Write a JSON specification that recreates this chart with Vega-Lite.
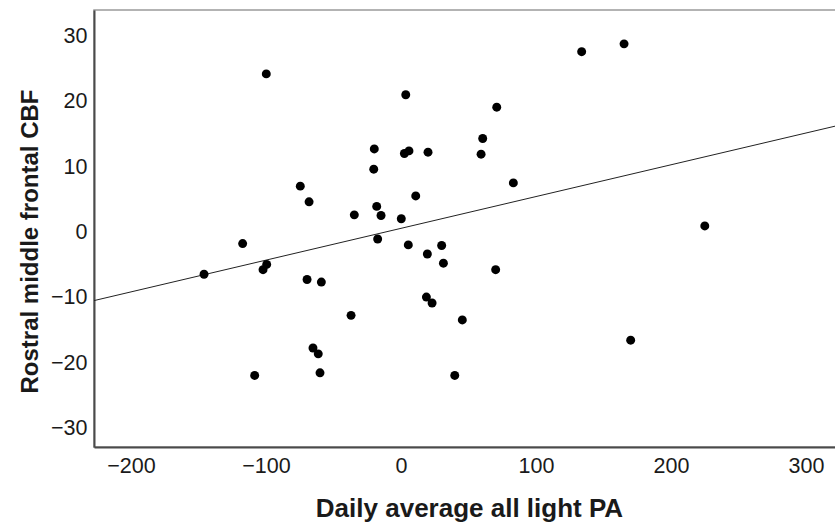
{
  "$schema": "https://vega.github.io/schema/vega-lite/v6.json",
  "width": 745,
  "height": 437,
  "autosize": "none",
  "padding": {"left": 94, "top": 10, "right": 0, "bottom": 81},
  "background": "white",
  "config": {
    "view": {"stroke": "#9a9a9a", "strokeWidth": 1.5},
    "font": "Liberation Sans",
    "axis": {
      "grid": false,
      "ticks": false,
      "domainColor": "#4a4a4a",
      "domainWidth": 2,
      "labelFont": "Liberation Sans",
      "labelFontSize": 21.5,
      "labelColor": "#1a1a1a",
      "titleFont": "Liberation Sans",
      "titleFontSize": 24,
      "titleFontWeight": "bold",
      "titleColor": "#1a1a1a"
    }
  },
  "data": {
    "values": [
      {"x": -99.8, "y": 24.3}, {"x": -74.6, "y": 7.1}, {"x": -68.1, "y": 4.7},
      {"x": -34.6, "y": 2.7}, {"x": -117.3, "y": -1.7}, {"x": -145.9, "y": -6.4},
      {"x": -99.5, "y": -4.9}, {"x": -102.2, "y": -5.7}, {"x": -69.6, "y": -7.2},
      {"x": -59.0, "y": -7.6}, {"x": -37.0, "y": -12.7}, {"x": -65.2, "y": -17.7},
      {"x": -61.3, "y": -18.6}, {"x": -108.4, "y": -21.9}, {"x": -60.0, "y": -21.5},
      {"x": 3.5, "y": 21.1}, {"x": 70.9, "y": 19.2}, {"x": 60.5, "y": 14.4},
      {"x": -19.8, "y": 12.8}, {"x": 2.5, "y": 12.1}, {"x": 5.9, "y": 12.5},
      {"x": 20.0, "y": 12.3}, {"x": 59.3, "y": 12.0}, {"x": -20.2, "y": 9.7},
      {"x": 83.2, "y": 7.6}, {"x": 10.9, "y": 5.6}, {"x": -18.0, "y": 4.0},
      {"x": -14.8, "y": 2.6}, {"x": 0.2, "y": 2.1}, {"x": -17.3, "y": -1.0},
      {"x": 5.4, "y": -1.9}, {"x": 30.1, "y": -2.0}, {"x": 19.5, "y": -3.3},
      {"x": 31.4, "y": -4.7}, {"x": 70.1, "y": -5.7}, {"x": 18.8, "y": -9.9},
      {"x": 23.0, "y": -10.8}, {"x": 45.4, "y": -13.4}, {"x": 39.8, "y": -21.9},
      {"x": 133.8, "y": 27.7}, {"x": 165.2, "y": 28.9}, {"x": 225.0, "y": 1.0},
      {"x": 170.1, "y": -16.5}
    ]
  },
  "encoding": {
    "x": {
      "field": "x",
      "type": "quantitative",
      "scale": {"domain": [-227.4, 324.4], "nice": false, "zero": false},
      "axis": {
        "values": [-200, -100, 0, 100, 200, 300],
        "title": "Daily average all light PA",
        "titleFontSize": 26,
        "labelPadding": 8,
        "titlePadding": 19,
        "titleX": 375,
        "titleAnchor": "middle"
      }
    },
    "y": {
      "field": "y",
      "type": "quantitative",
      "scale": {"domain": [-32.87, 34.09], "nice": false, "zero": false},
      "axis": {
        "values": [-30, -20, -10, 0, 10, 20, 30],
        "title": "Rostral middle frontal CBF",
        "labelPadding": 7,
        "titlePadding": 8,
        "titleY": 231,
        "titleAnchor": "middle"
      }
    }
  },
  "layer": [
    {
      "transform": [{"regression": "y", "on": "x", "extent": [-227.4, 324.4]}],
      "mark": {"type": "line", "color": "#222222", "strokeWidth": 1, "clip": true}
    },
    {
      "mark": {"type": "circle", "size": 80, "color": "black", "opacity": 1}
    }
  ]
}
